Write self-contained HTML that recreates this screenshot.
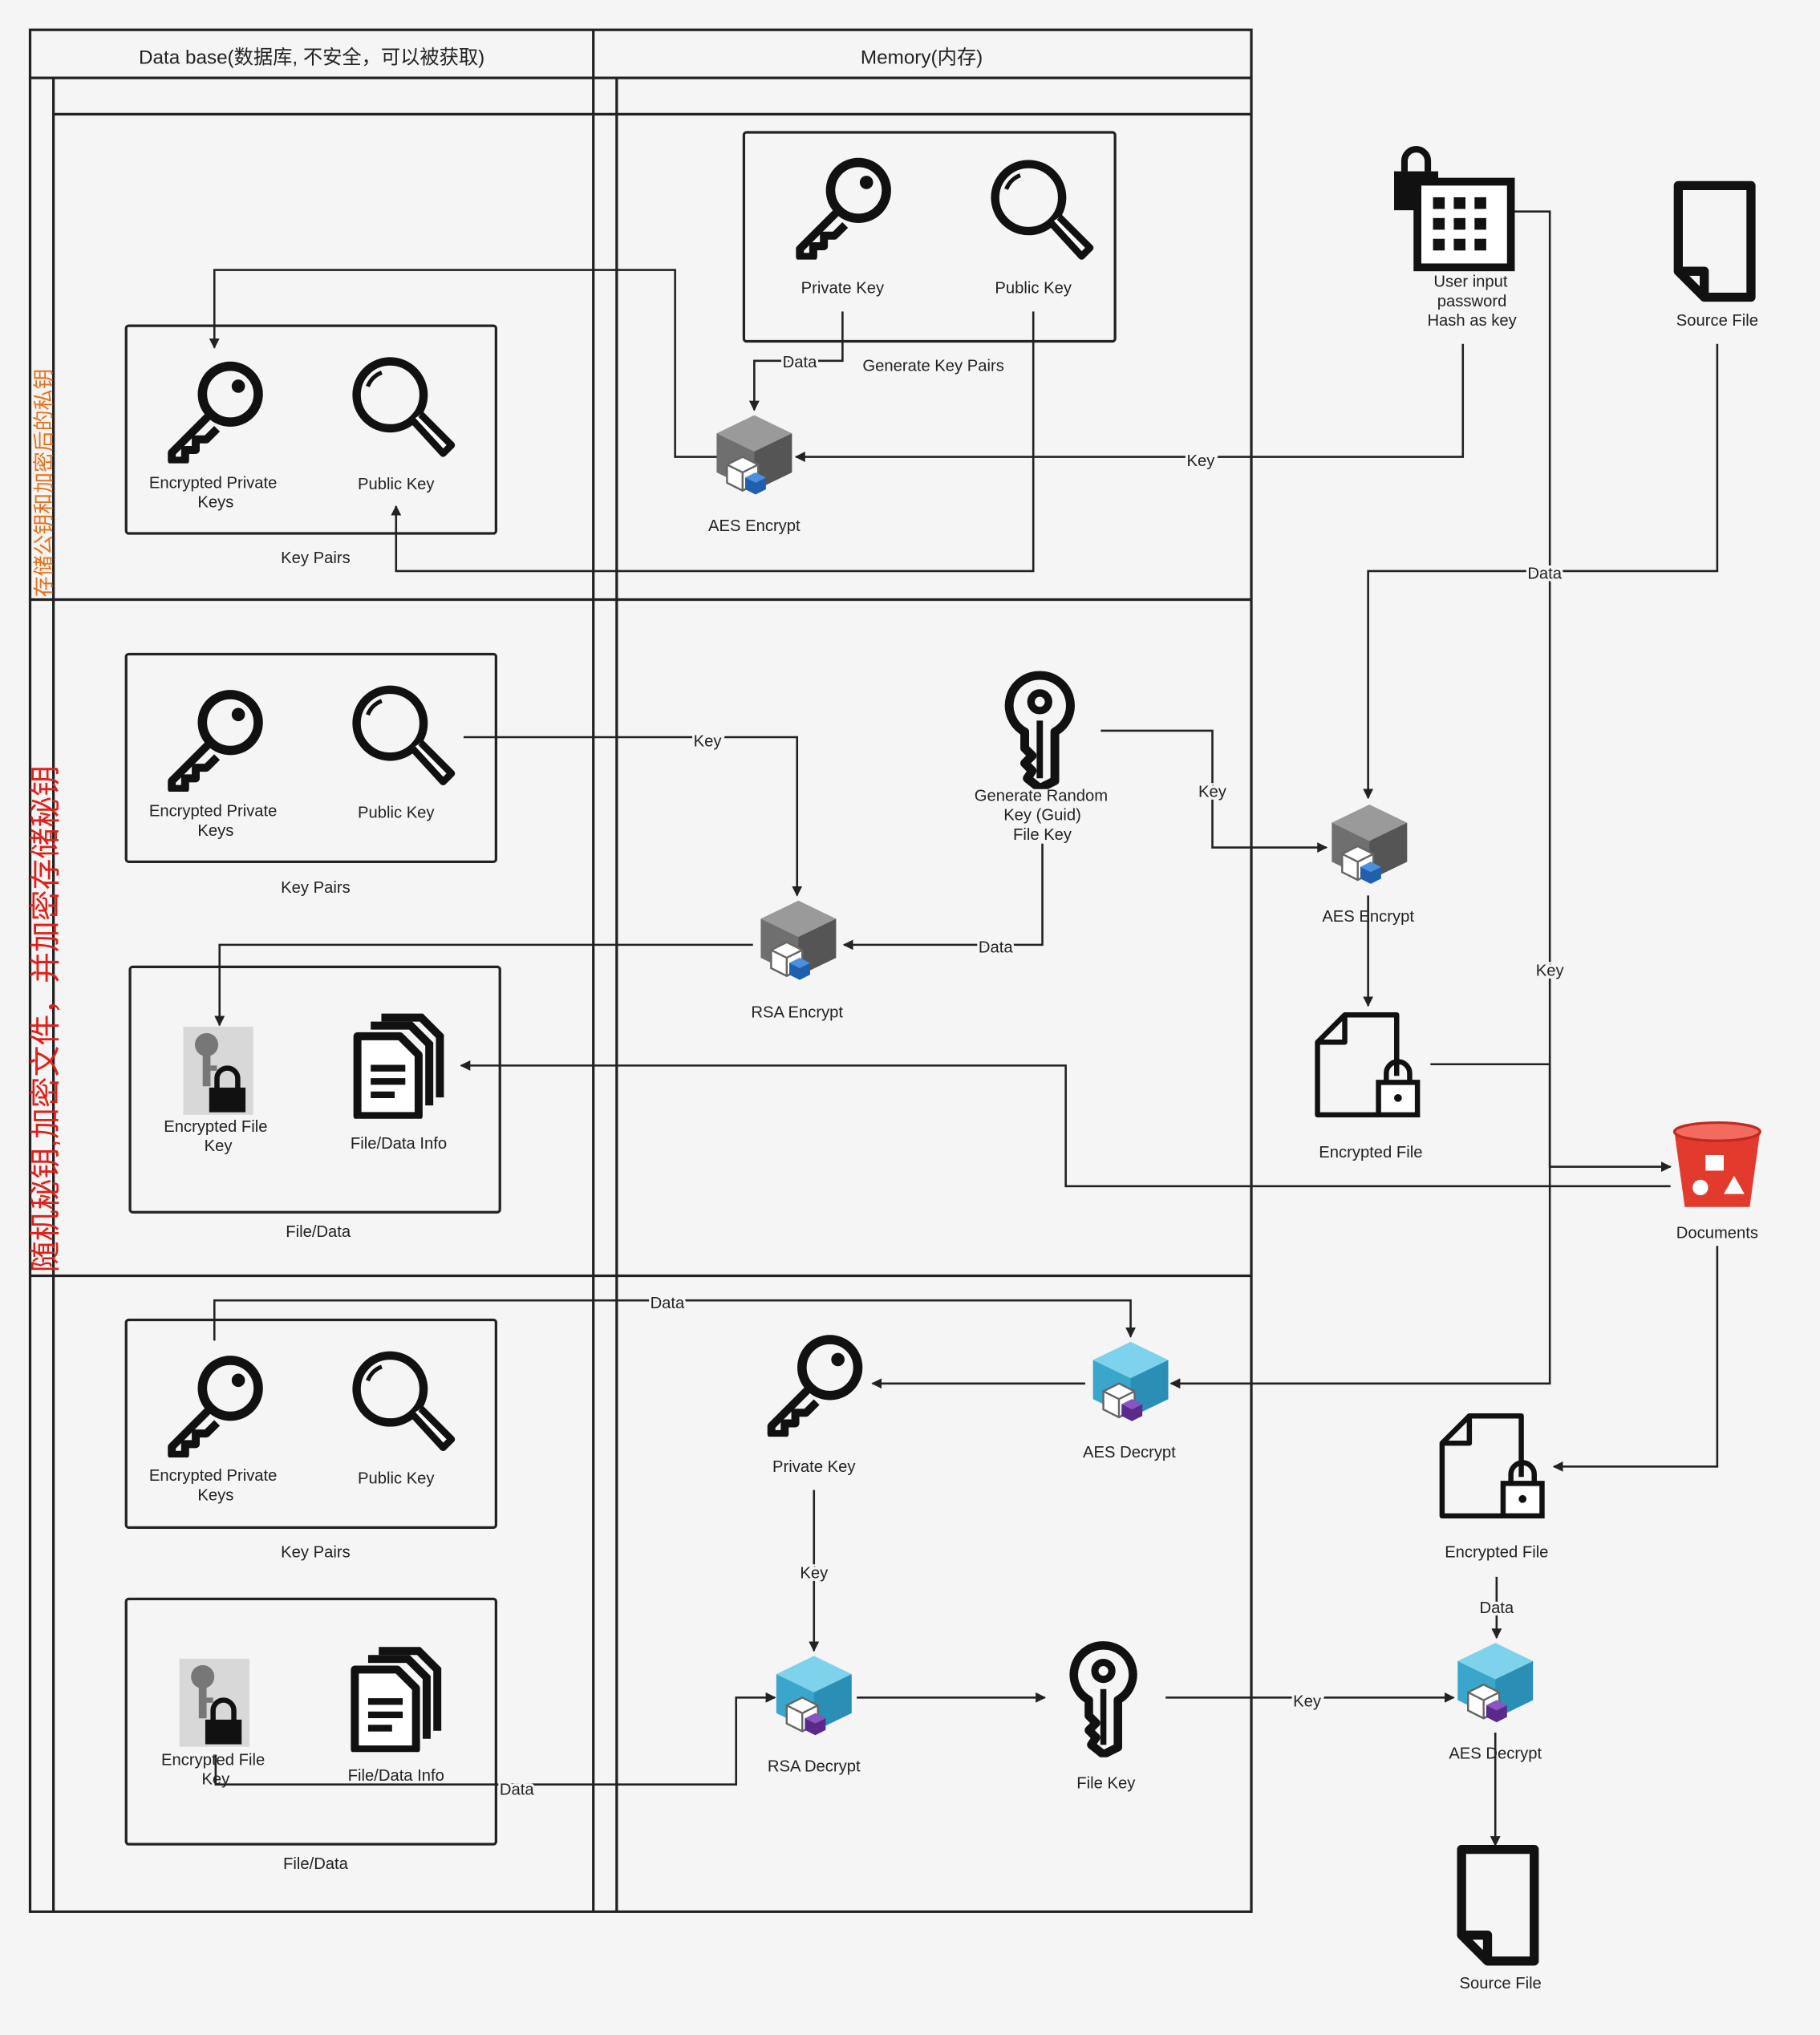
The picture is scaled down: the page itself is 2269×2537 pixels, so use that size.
<!DOCTYPE html>
<html><head><meta charset="utf-8"><style>
html,body{margin:0;padding:0;background:#f5f5f5;}
svg{display:block}
text{font-family:"Liberation Sans","Noto Sans CJK SC",sans-serif;font-size:12.5px;fill:#222;text-anchor:middle}
.lbl{paint-order:stroke;stroke:#f5f5f5;stroke-width:4px}
</style></head><body>
<svg width="2269" height="2537" viewBox="0 0 1402 1568" xmlns="http://www.w3.org/2000/svg">
<defs>
<marker id="ar" viewBox="0 0 10 10" refX="9" refY="5" markerWidth="8" markerHeight="8" orient="auto-start-reverse" markerUnits="userSpaceOnUse"><path d="M0,0 L10,5 L0,10 z" fill="#222"/></marker>
<symbol id="pkey" viewBox="0 0 80 80">
 <circle cx="52" cy="28" r="21" fill="none" stroke="#111" stroke-width="7"/>
 <circle cx="58" cy="22" r="5" fill="#111"/>
 <path d="M37,43 L8,72 L8,78 L18,78 L18,70 L26,70 L26,62 L34,62 L42,54" fill="none" stroke="#111" stroke-width="6" stroke-linejoin="round"/>
</symbol>
<symbol id="mag" viewBox="0 0 80 80">
 <circle cx="32" cy="30" r="24" fill="none" stroke="#111" stroke-width="6"/>
 <path d="M16,24 A17,17 0 0 1 26,14" fill="none" stroke="#111" stroke-width="3"/>
 <path d="M48,48 L70,72 L76,66 L54,44" fill="#fff" stroke="#111" stroke-width="5" stroke-linejoin="round"/>
</symbol>
<symbol id="cubeg" viewBox="0 0 70 70">
 <path d="M35,2 L64,16 L64,46 L35,60 L6,46 L6,16 z" fill="#6f6f6f"/>
 <path d="M35,2 L64,16 L35,30 L6,16 z" fill="#9a9a9a"/>
 <path d="M35,30 L64,16 L64,46 L35,60 z" fill="#555"/>
 <path d="M14,40 L26,34 L38,40 L38,54 L26,60 L14,54 z" fill="#fff" stroke="#666" stroke-width="1.5"/>
 <path d="M14,40 L26,46 L38,40 M26,46 L26,60" fill="none" stroke="#666" stroke-width="1.5"/>
 <path d="M28,50 L36,46 L44,50 L44,59 L36,63 L28,59 z" fill="#1f5fae"/>
 <path d="M28,50 L36,46 L44,50 L36,54z" fill="#4c8fdc"/>
</symbol>
<symbol id="cubeb" viewBox="0 0 70 70">
 <path d="M35,2 L64,16 L64,46 L35,60 L6,46 L6,16 z" fill="#3aa6cb"/>
 <path d="M35,2 L64,16 L35,30 L6,16 z" fill="#7fd2ec"/>
 <path d="M35,30 L64,16 L64,46 L35,60 z" fill="#2b8fb5"/>
 <path d="M14,40 L26,34 L38,40 L38,54 L26,60 L14,54 z" fill="#fff" stroke="#666" stroke-width="1.5"/>
 <path d="M14,40 L26,46 L38,40 M26,46 L26,60" fill="none" stroke="#666" stroke-width="1.5"/>
 <path d="M28,50 L36,46 L44,50 L44,59 L36,63 L28,59 z" fill="#5a2a8a"/>
 <path d="M28,50 L36,46 L44,50 L36,54z" fill="#8a55c0"/>
</symbol>
<symbol id="efk" viewBox="0 0 54 68">
 <rect x="0" y="0" width="54" height="68" fill="#d8d8d8"/>
 <circle cx="18" cy="14" r="9" fill="#777"/>
 <rect x="15" y="20" width="6" height="26" fill="#777"/><rect x="21" y="30" width="5" height="4" fill="#777"/>
 <path d="M26,48 L26,40 A8,8 0 0 1 42,40 L42,48" fill="none" stroke="#111" stroke-width="4"/>
 <rect x="20" y="47" width="28" height="19" fill="#111"/>
</symbol>
<symbol id="docs" viewBox="0 0 70 80">
 <path d="M22,4 L52,4 L66,18 L66,64" fill="none" stroke="#111" stroke-width="6"/>
 <path d="M14,10 L44,10 L58,24 L58,70" fill="none" stroke="#111" stroke-width="6"/>
 <path d="M4,18 L36,18 L50,32 L50,78 L4,78 z" fill="#fff" stroke="#111" stroke-width="6" stroke-linejoin="round"/>
 <path d="M14,42 L40,42 M14,52 L40,52 M14,62 L32,62" stroke="#111" stroke-width="5"/>
</symbol>
<symbol id="encf" viewBox="0 0 90 82">
 <path d="M24,3 L64,3 L64,50 M50,80 L3,80 L3,24 L24,3 L24,24 L3,24" fill="none" stroke="#111" stroke-width="4" stroke-linejoin="round"/>
 <path d="M56,56 L56,48 A9,9 0 0 1 74,48 L74,56" fill="none" stroke="#111" stroke-width="4"/>
 <rect x="50" y="55" width="30" height="25" fill="#fff" stroke="#111" stroke-width="4"/>
 <circle cx="65" cy="67" r="3" fill="#111"/>
</symbol>
<symbol id="srcf" viewBox="0 0 64 94">
 <path d="M4,4 L60,4 L60,90 L24,90 L4,70 z M4,70 L24,70 L24,90" fill="none" stroke="#111" stroke-width="7" stroke-linejoin="round"/>
</symbol>
<symbol id="vkey" viewBox="0 0 60 94">
 <path d="M30,4 A24,24 0 0 1 42,49 L42,88 L30,94 L20,86 L24,80 L18,74 L24,68 L18,62 L18,49 A24,24 0 0 1 30,4 z" fill="none" stroke="#111" stroke-width="7" stroke-linejoin="round"/>
 <circle cx="30" cy="25" r="7" fill="none" stroke="#111" stroke-width="6"/>
 <path d="M30,40 L30,86" stroke="#111" stroke-width="5"/>
</symbol>
</defs>

<!-- pools -->
<g fill="none" stroke="#222" stroke-width="2">
<rect x="23" y="23" width="941" height="1450"/>
<line x1="457" y1="23" x2="457" y2="1473"/>
<line x1="23" y1="60" x2="964" y2="60"/>
<line x1="41" y1="60" x2="41" y2="1473"/>
<line x1="475" y1="60" x2="475" y2="1473"/>
<line x1="41" y1="88" x2="964" y2="88"/>
<line x1="23" y1="462" x2="964" y2="462"/>
<line x1="23" y1="983" x2="964" y2="983"/>
</g>
<text x="240" y="49" style="font-size:15px">Data base(数据库, 不安全，可以被获取)</text>
<text x="710" y="49" style="font-size:15px">Memory(内存)</text>
<text transform="translate(39,372) rotate(-90)" style="font-size:16px;fill:#e8701a">存储公钥和加密后的私钥</text>
<text transform="translate(43,785) rotate(-90)" style="font-size:24px;fill:#e0201a">随机秘钥,加密文件，并加密存储秘钥</text>

<!-- boxes -->
<g fill="none" stroke="#222" stroke-width="2">
<rect x="573" y="102" width="286" height="161" rx="2"/>
<rect x="97" y="251" width="285" height="160" rx="2"/>
<rect x="97" y="504" width="285" height="160" rx="2"/>
<rect x="100" y="745" width="285" height="189" rx="2"/>
<rect x="97" y="1017" width="285" height="160" rx="2"/>
<rect x="97" y="1232" width="285" height="189" rx="2"/>
</g>

<!-- connectors -->
<g fill="none" stroke="#222" stroke-width="1.6" marker-end="url(#ar)">
<path d="M649,240 V278 H581 V316"/>
<path d="M553,352 H520 V208 H165 V268"/>
<path d="M1127,265 V352 H613"/>
<path d="M796,240 V440 H305 V390"/>
<path d="M1323,265 V440 H1054 V615"/>
<path d="M1165,163 H1194 V1066 H902"/>
<path d="M357,568 H614 V690"/>
<path d="M803,650 V728 H650"/>
<path d="M580,728 H169 V790"/>
<path d="M848,563 H934 V653 H1022"/>
<path d="M1054,690 V775"/>
<path d="M1102,820 H1194 V899 H1287"/>
<path d="M1287,914 H821 V821 H355"/>
<path d="M165,1033 V1002 H871 V1030"/>
<path d="M836,1066 H672"/>
<path d="M627,1148 V1272"/>
<path d="M166,1352 V1375 H567 V1308 H597"/>
<path d="M660,1308 H805"/>
<path d="M898,1308 H1120"/>
<path d="M1323,960 V1130 H1197"/>
<path d="M1153,1215 V1262"/>
<path d="M1152,1335 V1422"/>
</g>
<g class="lbl">
<text x="616" y="283">Data</text>
<text x="925" y="359">Key</text>
<text x="1190" y="446">Data</text>
<text x="1194" y="752">Key</text>
<text x="545" y="575">Key</text>
<text x="767" y="734">Data</text>
<text x="934" y="614">Key</text>
<text x="514" y="1008">Data</text>
<text x="627" y="1216">Key</text>
<text x="398" y="1383">Data</text>
<text x="1007" y="1315">Key</text>
<text x="1153" y="1243">Data</text>
</g>

<!-- icons lane1 -->
<use href="#pkey" x="608" y="118" width="82" height="82"/>
<use href="#mag" x="758" y="120" width="86" height="86"/>
<text x="649" y="226">Private Key</text><text x="796" y="226">Public Key</text>
<text x="719" y="286">Generate Key Pairs</text>
<use href="#pkey" x="124" y="275" width="82" height="82"/>
<use href="#mag" x="266" y="272" width="86" height="86"/>
<text x="164" y="376">Encrypted Private</text><text x="166" y="391">Keys</text>
<text x="305" y="377">Public Key</text><text x="243" y="434">Key Pairs</text>
<use href="#cubeg" x="546" y="318" width="70" height="70"/>
<text x="581" y="409">AES Encrypt</text>
<g fill="#111">
<rect x="1074" y="132" width="34" height="30"/><path d="M1082,132 V124 A9,9 0 0 1 1100,124 V132" fill="none" stroke="#111" stroke-width="5"/>
<rect x="1092" y="140" width="72" height="66" fill="#fff" stroke="#111" stroke-width="6"/>
<g fill="#111"><rect x="1104" y="152" width="9" height="9"/><rect x="1120" y="152" width="9" height="9"/><rect x="1136" y="152" width="9" height="9"/><rect x="1104" y="168" width="9" height="9"/><rect x="1120" y="168" width="9" height="9"/><rect x="1136" y="168" width="9" height="9"/><rect x="1104" y="184" width="9" height="9"/><rect x="1120" y="184" width="9" height="9"/><rect x="1136" y="184" width="9" height="9"/></g>
</g>
<text x="1133" y="221">User input</text><text x="1134" y="236">password</text><text x="1134" y="251">Hash as key</text>
<use href="#srcf" x="1289" y="139" width="64" height="94"/>
<text x="1323" y="251">Source File</text>

<!-- lane2 -->
<use href="#pkey" x="124" y="528" width="82" height="82"/>
<use href="#mag" x="266" y="525" width="86" height="86"/>
<text x="164" y="629">Encrypted Private</text><text x="166" y="644">Keys</text>
<text x="305" y="630">Public Key</text><text x="243" y="688">Key Pairs</text>
<use href="#efk" x="141" y="791" width="54" height="68"/>
<use href="#docs" x="271" y="780" width="72" height="82"/>
<text x="166" y="872">Encrypted File</text><text x="168" y="887">Key</text>
<text x="307" y="885">File/Data Info</text><text x="245" y="953">File/Data</text>
<use href="#cubeg" x="580" y="692" width="70" height="70"/>
<text x="614" y="784">RSA Encrypt</text>
<use href="#vkey" x="772" y="516" width="58" height="92"/>
<text x="802" y="617">Generate Random</text><text x="803" y="632">Key (Guid)</text><text x="803" y="647">File Key</text>
<use href="#cubeg" x="1020" y="618" width="70" height="70"/>
<text x="1054" y="710">AES Encrypt</text>
<use href="#encf" x="1012" y="779" width="90" height="82"/>
<text x="1056" y="892">Encrypted File</text>
<path d="M1290,872 L1356,872 L1348,930 L1298,930 z" fill="#e23b2e"/>
<ellipse cx="1323" cy="872" rx="33" ry="7" fill="#f26b5e" stroke="#c02a20" stroke-width="2"/>
<rect x="1314" y="890" width="14" height="12" fill="#fff"/><circle cx="1310" cy="915" r="6" fill="#fff"/><path d="M1336,906 L1344,920 L1328,920z" fill="#fff"/>
<text x="1323" y="954">Documents</text>

<!-- lane3 -->
<use href="#pkey" x="124" y="1041" width="82" height="82"/>
<use href="#mag" x="266" y="1038" width="86" height="86"/>
<text x="164" y="1141">Encrypted Private</text><text x="166" y="1156">Keys</text>
<text x="305" y="1143">Public Key</text><text x="243" y="1200">Key Pairs</text>
<use href="#efk" x="138" y="1278" width="54" height="68"/>
<use href="#docs" x="269" y="1268" width="72" height="82"/>
<text x="164" y="1360">Encrypted File</text><text x="166" y="1375">Key</text>
<text x="305" y="1372">File/Data Info</text><text x="243" y="1440">File/Data</text>
<use href="#pkey" x="586" y="1025" width="82" height="82"/>
<text x="627" y="1134">Private Key</text>
<use href="#cubeb" x="836" y="1032" width="70" height="70"/>
<text x="870" y="1123">AES Decrypt</text>
<use href="#cubeb" x="592" y="1274" width="70" height="70"/>
<text x="627" y="1365">RSA Decrypt</text>
<use href="#vkey" x="822" y="1262" width="56" height="92"/>
<text x="852" y="1378">File Key</text>
<use href="#encf" x="1108" y="1088" width="90" height="82"/>
<text x="1153" y="1200">Encrypted File</text>
<use href="#cubeb" x="1117" y="1264" width="70" height="70"/>
<text x="1152" y="1355">AES Decrypt</text>
<use href="#srcf" x="1122" y="1421" width="64" height="94"/>
<text x="1156" y="1532">Source File</text>
</svg>
</body></html>
